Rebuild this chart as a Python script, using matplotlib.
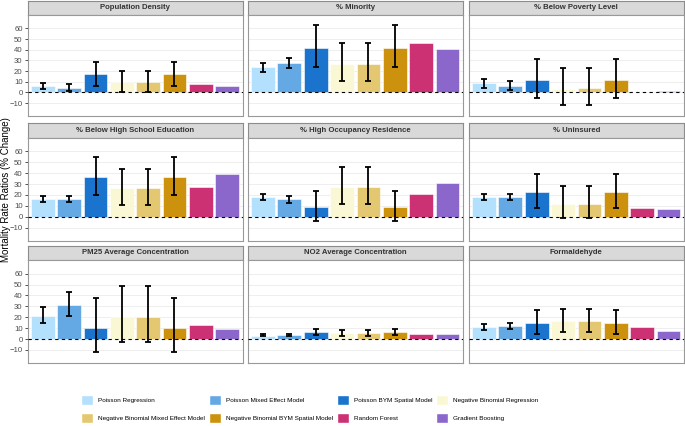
import numpy as np
import matplotlib
matplotlib.use("Agg")
import matplotlib.pyplot as plt
from matplotlib.patches import Patch

plt.rcParams['font.family'] = ['Liberation Sans', 'DejaVu Sans']

#----------------------------------------------------------------
# data:

models = ["Poisson Regression", "Poisson Mixed Effect Model", "Poisson BYM Spatial Model",
          "Negative Binomial Regression", "Negative Binomial Mixed Effect Model",
          "Negative Binomial BYM Spatial Model", "Random Forest", "Gradient Boosting"]

colors = ["#b3e0fc", "#64a9e3", "#1a73cc", "#faf8d4", "#e3c871", "#cc920e", "#cc3174", "#8b67cc"]

panels = ["Population Density", "% Minority", "% Below Poverty Level",
          "% Below High School Education", "% High Occupancy Residence", "% Uninsured",
          "PM25 Average Concentration", "NO2 Average Concentration", "Formaldehyde"]

# point estimates (% change), one list per panel, in model order
pop_density = [6, 4.5, 17, 9.5, 9.5, 17, 8, 6.5]
minority = [23.5, 27.5, 42, 27, 27, 42, 46, 41]
poverty = [8.5, 6, 11.5, 3.5, 3.8, 11.5, 0.3, 1.2]
below_hs = [16, 16.5, 36.5, 26, 26, 36.5, 27.5, 39.5]
high_occ = [18, 16, 9, 27.5, 27.5, 9, 20.5, 30.5]
uninsured = [18, 18, 23, 12, 12, 23, 8.5, 6.8]
pm25 = [21.5, 31.5, 10, 20, 20, 10, 13, 9.5]
no2 = [3, 3.5, 6, 5.5, 5.5, 6, 4.5, 4.3]
formaldehyde = [11, 12, 15, 16.5, 16.5, 15, 10.8, 7.7]

# lower / upper CI for the six regression models (tree models have none)
pop_density_lo = [3.5, 1, 6.5, 0, 0, 6.5]
pop_density_hi = [9, 7.5, 28.5, 20, 20, 28.5]
minority_lo = [19, 23, 23.5, 10.5, 10.5, 23.5]
minority_hi = [27.5, 32, 63.5, 46.5, 46.5, 63.5]
poverty_lo = [4.5, 2, -5, -12, -12, -5]
poverty_hi = [13, 11, 31.5, 23, 23, 31.5]
below_hs_lo = [13.5, 14, 20, 11, 11, 20]
below_hs_hi = [19, 19.5, 55, 44, 44, 55]
high_occ_lo = [15, 13, -3.5, 12, 12, -3.5]
high_occ_hi = [21, 19, 23.5, 46, 46, 23.5]
uninsured_lo = [15, 15, 8.5, -1, -1, 8.5]
uninsured_hi = [20.5, 20.5, 39.5, 28, 28, 39.5]
pm25_lo = [15, 21, -12, -3, -3, -12]
pm25_hi = [29, 43.5, 37.5, 48.5, 48.5, 37.5]
no2_lo = [2.5, 2.5, 3.5, 2.5, 2.5, 3.5]
no2_hi = [4.5, 5, 9.5, 8.5, 8.5, 9.5]
formaldehyde_lo = [8.5, 9, 5, 6.5, 6.5, 5]
formaldehyde_hi = [14, 15, 27, 28, 28, 27]

values = [pop_density, minority, poverty, below_hs, high_occ, uninsured, pm25, no2, formaldehyde]
lows = [pop_density_lo, minority_lo, poverty_lo, below_hs_lo, high_occ_lo, uninsured_lo,
        pm25_lo, no2_lo, formaldehyde_lo]
highs = [pop_density_hi, minority_hi, poverty_hi, below_hs_hi, high_occ_hi, uninsured_hi,
         pm25_hi, no2_hi, formaldehyde_hi]

yticks = [-10, 0, 10, 20, 30, 40, 50, 60]

#----------------------------------------------------------------
# layout (pixels):

W, H = 685, 426
col_x = [(27.5, 242.5), (247.5, 463), (468.5, 684)]
row_y = [(0.5, 15, 116), (122.5, 137.5, 241), (245.5, 260, 363)]  # strip top, panel top, panel bottom

fig = plt.figure(figsize=(W / 100, H / 100), dpi=100)


def box(x0, x1, y0, y1):
    return [x0 / W, 1 - y1 / H, (x1 - x0) / W, (y1 - y0) / H]


x = np.arange(len(models))

for i, name in enumerate(panels):
    r, c = divmod(i, 3)
    x0, x1 = col_x[c]
    st, pt, pb = row_y[r]

    # strip
    sax = fig.add_axes(box(x0, x1, st, pt))
    sax.set_facecolor("#d9d9d9")
    sax.set_xticks([])
    sax.set_yticks([])
    for s in sax.spines.values():
        s.set_color("#8c8c8c")
        s.set_linewidth(0.8)
    sax.text(0.5, 0.5, name, ha="center", va="center", fontsize=5.6,
             fontweight="bold", color="#333333", transform=sax.transAxes)

    ax = fig.add_axes(box(x0, x1, pt, pb))
    ax.set_xlim(-0.585, len(models) - 1 + 0.585)
    ax.set_ylim(-22, 72.5)
    ax.set_yticks(yticks)
    ax.grid(axis="y", color="#ebebeb", linewidth=0.6)
    ax.set_axisbelow(True)
    ax.set_xticks([])
    for s in ax.spines.values():
        s.set_color("#999999")
        s.set_linewidth(0.8)

    ax.bar(x, values[i], width=0.9, color=colors, edgecolor="white", linewidth=0.4, zorder=2)

    n = len(lows[i])
    vals = np.array(values[i][:n])
    lo = vals - np.array(lows[i])
    hi = np.array(highs[i]) - vals
    ax.errorbar(x[:n], vals, yerr=[lo, hi], fmt="none", ecolor="black",
                elinewidth=1.3, capsize=2.2, capthick=1.3, zorder=3)

    ax.axhline(0, color="black", linestyle=(0, (3, 3)), linewidth=0.8, zorder=4)

    if c == 0:
        ax.tick_params(axis="y", labelsize=5.6, labelcolor="#4d4d4d", color="#333333",
                       length=2, width=0.6, pad=1.5)
    else:
        ax.tick_params(axis="y", labelleft=False, length=0)

fig.text(6 / W, 1 - 190 / H, "Mortality Rate Ratios (% Change)", rotation=90,
         ha="center", va="center", fontsize=7)

# legend, filled row-wise like ggplot
handles = [Patch(facecolor=colors[k], edgecolor="white", label=models[k]) for k in range(len(models))]
order = [0, 4, 1, 5, 2, 6, 3, 7]
fig.legend([handles[k] for k in order], [models[k] for k in order], ncol=4,
           loc="center left", bbox_to_anchor=(78 / W, 1 - 409 / H), frameon=False,
           fontsize=4.6, handlelength=1.9, handleheight=1.9, handletextpad=0.8,
           columnspacing=0.55, labelspacing=1.3, borderpad=0)

fig.savefig("out.png", dpi=100)
